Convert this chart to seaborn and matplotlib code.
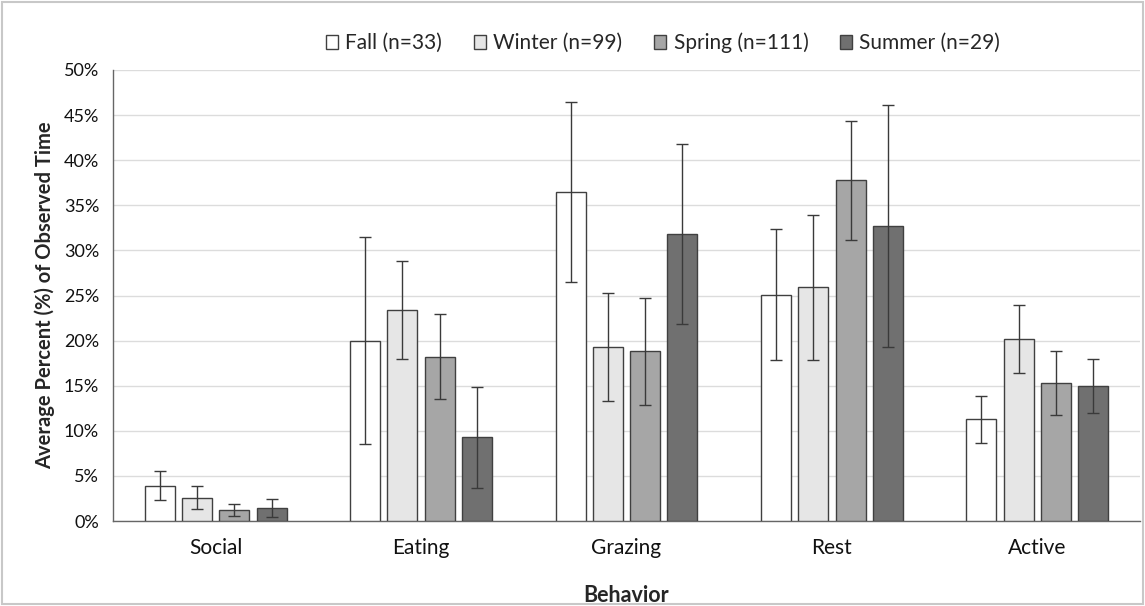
import numpy as np
import pandas as pd
import matplotlib
matplotlib.use("Agg")
import matplotlib.pyplot as plt
import seaborn as sns
from matplotlib.ticker import PercentFormatter, FixedLocator
from matplotlib.patches import Rectangle

behaviors = ["Social", "Eating", "Grazing", "Rest", "Active"]
seasons = ["Fall (n=33)", "Winter (n=99)", "Spring (n=111)", "Summer (n=29)"]

fall = [3.9, 20.0, 36.5, 25.1, 11.3]
winter = [2.6, 23.4, 19.3, 25.9, 20.2]
spring = [1.2, 18.2, 18.8, 37.8, 15.3]
summer = [1.4, 9.3, 31.8, 32.7, 15.0]

fall_err = [1.6, 11.5, 10.0, 7.3, 2.6]
winter_err = [1.3, 5.4, 6.0, 8.0, 3.8]
spring_err = [0.7, 4.7, 5.9, 6.6, 3.6]
summer_err = [1.0, 5.6, 10.0, 13.4, 3.0]

season_colors = ["#ffffff", "#e6e6e6", "#a6a6a6", "#707070"]

values = [fall, winter, spring, summer]
errs = [fall_err, winter_err, spring_err, summer_err]

rows = []
for s, vals, es in zip(seasons, values, errs):
    for b, v, e in zip(behaviors, vals, es):
        rows.append({"Behavior": b, "Season": s, "Value": v / 100.0, "Err": e / 100.0})
df = pd.DataFrame(rows)

sns.set_style("white")
plt.rcParams["font.family"] = ["Lato", "DejaVu Sans"]

fig = plt.figure(figsize=(11.45, 6.06), dpi=100)
ax = fig.add_axes([113 / 1145, 1 - 521 / 606, (1140 - 113) / 1145, (521 - 70) / 606])

sns.barplot(data=df, x="Behavior", y="Value", hue="Season", order=behaviors,
            hue_order=seasons, palette=season_colors, errorbar=None,
            width=0.726, gap=0.196, edgecolor="#404040", linewidth=1.0,
            ax=ax, legend=False, zorder=3)

# error bars at bar centers
for i, (s, es) in enumerate(zip(seasons, errs)):
    cont = ax.containers[i]
    xs = [p.get_x() + p.get_width() / 2 for p in cont.patches]
    ys = [p.get_height() for p in cont.patches]
    ax.errorbar(xs, ys, yerr=np.array(es) / 100.0, fmt="none", ecolor="#3a3a3a",
                elinewidth=1.0, capsize=4.5, capthick=1.0, zorder=4)

ax.set_ylim(0, 0.5)
ax.set_xlim(-0.5, len(behaviors) - 0.5)
ax.yaxis.set_major_locator(FixedLocator(np.arange(0, 0.501, 0.05)))
ax.yaxis.set_major_formatter(PercentFormatter(1.0, decimals=0))
ax.grid(axis="y", color="#dcdcdc", linewidth=1.0, zorder=0)
ax.set_axisbelow(True)

ax.xaxis.set_major_locator(FixedLocator(range(len(behaviors))))
ax.set_xticks(np.arange(-0.5, len(behaviors)), minor=True)
ax.tick_params(axis="x", which="major", length=0, pad=12, labelsize=15, colors="#111111")
ax.tick_params(axis="x", which="minor", length=7, width=1, color="#666666", direction="out")
ax.tick_params(axis="y", which="major", length=6, width=1, color="#666666", direction="out",
               labelsize=13, labelcolor="#111111", pad=4)

for side in ["top", "right"]:
    ax.spines[side].set_visible(False)
for side in ["left", "bottom"]:
    ax.spines[side].set_color("#666666")
    ax.spines[side].set_linewidth(1.0)

ax.set_xlabel("Behavior", fontsize=15.5, fontweight="bold", labelpad=20)
ax.set_ylabel("Average Percent (%) of Observed Time", fontsize=14.5, fontweight="bold", labelpad=6)

handles = [Rectangle((0, 0), 1, 1, facecolor=c, edgecolor="#404040", linewidth=1.0)
           for c in season_colors]
fig.legend(handles, seasons, loc="center", bbox_to_anchor=(663 / 1145, 1 - 43 / 606),
           ncol=4, frameon=False, fontsize=15, handlelength=0.6, handleheight=0.6,
           handletextpad=0.35, columnspacing=1.5, borderaxespad=0, borderpad=0)

# outer chart border
fig.patches.append(Rectangle((2 / 1145, 2 / 606), 1 - 4 / 1145, 1 - 4 / 606,
                             transform=fig.transFigure, fill=False,
                             edgecolor="#c8c8c8", linewidth=1.5))

fig.savefig("out.png", dpi=100)
